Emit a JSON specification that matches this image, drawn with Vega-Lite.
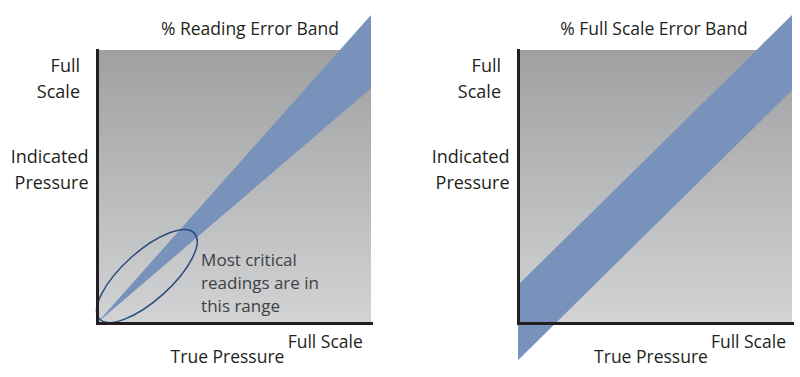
{
  "$schema": "https://vega.github.io/schema/vega-lite/v6.json",
  "padding": {"left": 10, "top": 15, "right": 5, "bottom": 5},
  "spacing": 60,
  "config": {
    "view": {"stroke": null},
    "text": {"font": "Open Sans", "fontWeight": 500}
  },
  "hconcat": [
    {
      "width": 274,
      "height": 273,
      "layer": [
        {
          "data": {"values": [{"x0": 0, "x1": 100, "y0": 0, "y1": 100}]},
          "mark": {"type": "rect", "color": {"gradient": "linear", "x1": 0, "y1": 0, "x2": 0, "y2": 1, "stops": [{"offset": 0, "color": "#9fa0a2"}, {"offset": 1, "color": "#d2d3d5"}]}},
          "encoding": {
            "x": {"field": "x0", "type": "quantitative", "scale": {"domain": [0, 100], "nice": false, "zero": false}, "axis": {"domain": true, "labels": false, "ticks": false, "grid": false, "title": "", "domainColor": "#231f20", "domainWidth": 3, "domainCap": "square", "zindex": 1}},
            "x2": {"field": "x1"},
            "y": {"field": "y0", "type": "quantitative", "scale": {"domain": [0, 100], "nice": false, "zero": false}, "axis": {"domain": true, "labels": false, "ticks": false, "grid": false, "title": "", "domainColor": "#231f20", "domainWidth": 3, "domainCap": "square", "zindex": 1}},
            "y2": {"field": "y1"}
          }
        },
        {
          "data": {"values": [{"true": 0, "low": 0, "high": 0}, {"true": 100, "low": 86, "high": 112.8}]},
          "mark": {"type": "area", "color": "#7892bc", "opacity": 1},
          "encoding": {
            "x": {"field": "true", "type": "quantitative"},
            "y": {"field": "low", "type": "quantitative"},
            "y2": {"field": "high"}
          }
        },
        {
          "data": {"values": [{"x": 18.2, "y": 17.2}]},
          "mark": {"type": "point", "shape": "M-1,0A1,0.38,0,1,1,1,0A1,0.38,0,1,1,-1,0Z", "size": 16384, "angle": 318, "filled": false, "stroke": "#2b4b7d", "strokeWidth": 1.5, "opacity": 1},
          "encoding": {
            "x": {"field": "x", "type": "quantitative"},
            "y": {"field": "y", "type": "quantitative"}
          }
        },
        {
          "data": {"values": [
            {"label": "Full", "x": -6.2, "y": 92.05},
            {"label": "Scale", "x": -6.2, "y": 82.6},
            {"label": "Indicated", "x": -3.1, "y": 58.5},
            {"label": "Pressure", "x": -3.1, "y": 49.0}
          ]},
          "mark": {"type": "text", "align": "right", "baseline": "alphabetic", "fontSize": 18, "color": "#231f20"},
          "encoding": {
            "x": {"field": "x", "type": "quantitative"},
            "y": {"field": "y", "type": "quantitative"},
            "text": {"field": "label"}
          }
        },
        {
          "data": {"values": [
            {"label": "Full Scale", "x": 97.0, "y": -9.3},
            {"label": "True Pressure", "x": 68.4, "y": -14.8}
          ]},
          "mark": {"type": "text", "align": "right", "baseline": "alphabetic", "fontSize": 17.5, "color": "#231f20"},
          "encoding": {
            "x": {"field": "x", "type": "quantitative"},
            "y": {"field": "y", "type": "quantitative"},
            "text": {"field": "label"}
          }
        },
        {
          "data": {"values": [{"label": "% Reading Error Band", "x": 55.8, "y": 105.5}]},
          "mark": {"type": "text", "align": "center", "baseline": "alphabetic", "fontSize": 17.5, "color": "#231f20"},
          "encoding": {
            "x": {"field": "x", "type": "quantitative"},
            "y": {"field": "y", "type": "quantitative"},
            "text": {"field": "label"}
          }
        },
        {
          "data": {"values": [
            {"label": "Most critical", "x": 38.0, "y": 20.7},
            {"label": "readings are in", "x": 38.0, "y": 12.45},
            {"label": "this range", "x": 38.0, "y": 4.0}
          ]},
          "mark": {"type": "text", "align": "left", "baseline": "alphabetic", "fontSize": 17, "color": "#414042"},
          "encoding": {
            "x": {"field": "x", "type": "quantitative"},
            "y": {"field": "y", "type": "quantitative"},
            "text": {"field": "label"}
          }
        }
      ]
    },
    {
      "width": 274,
      "height": 273,
      "layer": [
        {
          "data": {"values": [{"x0": 0, "x1": 100, "y0": 0, "y1": 100}]},
          "mark": {"type": "rect", "color": {"gradient": "linear", "x1": 0, "y1": 0, "x2": 0, "y2": 1, "stops": [{"offset": 0, "color": "#9fa0a2"}, {"offset": 1, "color": "#d2d3d5"}]}},
          "encoding": {
            "x": {"field": "x0", "type": "quantitative", "scale": {"domain": [0, 100], "nice": false, "zero": false}, "axis": {"domain": true, "labels": false, "ticks": false, "grid": false, "title": "", "domainColor": "#231f20", "domainWidth": 3, "domainCap": "square", "zindex": 1}},
            "x2": {"field": "x1"},
            "y": {"field": "y0", "type": "quantitative", "scale": {"domain": [0, 100], "nice": false, "zero": false}, "axis": {"domain": true, "labels": false, "ticks": false, "grid": false, "title": "", "domainColor": "#231f20", "domainWidth": 3, "domainCap": "square", "zindex": 1}},
            "y2": {"field": "y1"}
          }
        },
        {
          "data": {"values": [{"true": 0, "low": -13.6, "high": 13.9}, {"true": 100, "low": 85.3, "high": 112.8}]},
          "mark": {"type": "area", "color": "#7892bc", "opacity": 1},
          "encoding": {
            "x": {"field": "true", "type": "quantitative"},
            "y": {"field": "low", "type": "quantitative"},
            "y2": {"field": "high"}
          }
        },
        {
          "data": {"values": [
            {"label": "Full", "x": -6.2, "y": 92.05},
            {"label": "Scale", "x": -6.2, "y": 82.6},
            {"label": "Indicated", "x": -3.1, "y": 58.5},
            {"label": "Pressure", "x": -3.1, "y": 49.0}
          ]},
          "mark": {"type": "text", "align": "right", "baseline": "alphabetic", "fontSize": 18, "color": "#231f20"},
          "encoding": {
            "x": {"field": "x", "type": "quantitative"},
            "y": {"field": "y", "type": "quantitative"},
            "text": {"field": "label"}
          }
        },
        {
          "data": {"values": [
            {"label": "Full Scale", "x": 97.8, "y": -9.3},
            {"label": "True Pressure", "x": 69.3, "y": -14.8}
          ]},
          "mark": {"type": "text", "align": "right", "baseline": "alphabetic", "fontSize": 17.5, "color": "#231f20"},
          "encoding": {
            "x": {"field": "x", "type": "quantitative"},
            "y": {"field": "y", "type": "quantitative"},
            "text": {"field": "label"}
          }
        },
        {
          "data": {"values": [{"label": "% Full Scale Error Band", "x": 49.6, "y": 105.5}]},
          "mark": {"type": "text", "align": "center", "baseline": "alphabetic", "fontSize": 17.5, "color": "#231f20"},
          "encoding": {
            "x": {"field": "x", "type": "quantitative"},
            "y": {"field": "y", "type": "quantitative"},
            "text": {"field": "label"}
          }
        }
      ]
    }
  ]
}
